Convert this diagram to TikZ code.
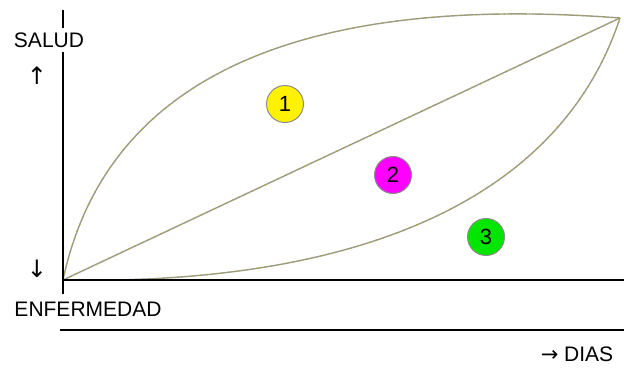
\documentclass[tikz,border=0pt]{standalone}
\usepackage{fontspec}
\setmainfont{Liberation Sans}
\newfontfamily\symfont{DejaVu Sans}
\begin{document}
\begin{tikzpicture}[x=1pt,y=-1pt,
  axis/.style={line width=1.6pt,black},
  curveline/.style={line width=1.4pt,color={rgb,255:red,155;green,155;blue,140}},
  curvedots/.style={line width=1.2pt,color={rgb,255:red,175;green,165;blue,40},dash pattern=on 1.2pt off 6pt},
  lbl/.style={font=\fontsize{21}{23}\selectfont,inner sep=1pt},
  arr/.style={font=\symfont\fontsize{24}{26}\selectfont,inner sep=0pt},
  num/.style={circle,draw={rgb,255:red,140;green,140;blue,140},line width=1pt,minimum size=37pt,inner sep=0pt,font=\fontsize{22}{24}\selectfont}
]
\useasboundingbox (0,0) rectangle (624,367);
\coordinate (O) at (63,280);
\coordinate (T) at (620,18);
\coordinate (Ytop) at (63,10);
\coordinate (Ybot) at (63,294);
\coordinate (Xend) at (624,280);
\coordinate (Lstart) at (60,330);
\coordinate (Lend) at (624,330);
% curves
\foreach \s in {curveline,curvedots}{
  \draw[\s] (O) .. controls (110,60) and (330,-4) .. (T);
  \draw[\s] (O) -- (T);
  \draw[\s] (O) .. controls (330,285) and (555,215) .. (T);
}
% axes
\draw[axis] (Ytop) -- (Ybot);
\draw[axis] (O) -- (Xend);
\draw[axis] (Lstart) -- (Lend);
% labels
\node[lbl,fill=white,inner xsep=0pt,inner ysep=5pt] (salud) at (49,40) {SALUD};
\node[arr] (up) at (37,76) {↑};
\node[arr] (down) at (37,269) {↓};
\node[lbl] (enf) at (88,309) {ENFERMEDAD};
\node[lbl] (dias) at (577,354) {{\symfont →} DIAS};
% circles
\node[num,fill=yellow] (c1) at (285,104) {1};
\node[num,fill={rgb,255:red,255;green,0;blue,255}] (c2) at (393,175) {2};
\node[num,fill={rgb,255:red,0;green,230;blue,0}] (c3) at (486,237) {3};
\end{tikzpicture}
\end{document}
